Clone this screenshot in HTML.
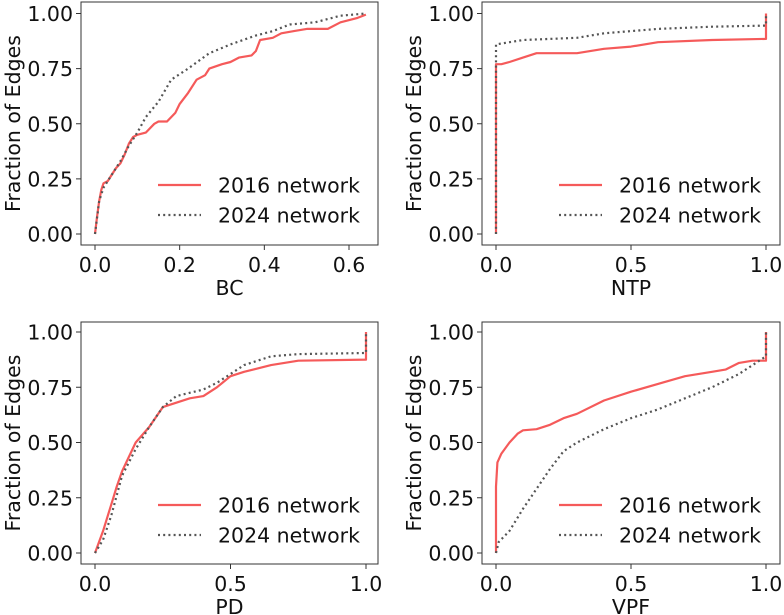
<!DOCTYPE html>
<html><head><meta charset="utf-8"><style>
body{margin:0;background:#fff}
svg{display:block;font-family:"DejaVu Sans","Liberation Sans",sans-serif}
</style></head><body>
<svg id="chart" width="784" height="615" viewBox="0 0 784 615"></svg>
<script>
const panelTitles = ["BC","NTP","PD","VPF"];
const xTicksBC = [0,0.2,0.4,0.6];
const xTicksUnit = [0,0.5,1];
const yTicks = [0,0.25,0.5,0.75,1];
const seriesNames = ["2016 network","2024 network"];
const bc2016 = [[0,0],[0.005,0.08],[0.01,0.15],[0.015,0.2],[0.02,0.23],[0.03,0.24],[0.04,0.27],[0.05,0.3],[0.06,0.32],[0.07,0.36],[0.08,0.41],[0.09,0.44],[0.1,0.45],[0.12,0.46],[0.14,0.5],[0.15,0.51],[0.17,0.51],[0.19,0.55],[0.2,0.59],[0.22,0.64],[0.24,0.7],[0.26,0.72],[0.27,0.75],[0.3,0.77],[0.32,0.78],[0.34,0.8],[0.37,0.81],[0.38,0.83],[0.39,0.88],[0.42,0.89],[0.44,0.91],[0.47,0.92],[0.5,0.93],[0.55,0.93],[0.58,0.96],[0.62,0.98],[0.64,0.995]];
const bc2024 = [[0,0],[0.01,0.15],[0.02,0.21],[0.04,0.27],[0.06,0.33],[0.08,0.40],[0.1,0.46],[0.12,0.53],[0.15,0.6],[0.18,0.7],[0.22,0.75],[0.27,0.82],[0.32,0.86],[0.38,0.9],[0.42,0.92],[0.46,0.95],[0.52,0.96],[0.58,0.99],[0.64,1.0]];
const ntp2016 = [[0,0],[0,0.77],[0.02,0.77],[0.05,0.78],[0.1,0.8],[0.15,0.82],[0.3,0.82],[0.4,0.84],[0.5,0.85],[0.6,0.87],[0.8,0.88],[1,0.885],[1,1]];
const ntp2024 = [[0,0],[0,0.86],[0.05,0.87],[0.1,0.88],[0.3,0.89],[0.4,0.91],[0.6,0.93],[0.8,0.94],[1,0.945],[1,1]];
const pd2016 = [[0,0],[0.03,0.1],[0.06,0.22],[0.08,0.3],[0.1,0.37],[0.15,0.5],[0.2,0.57],[0.25,0.66],[0.3,0.68],[0.35,0.7],[0.4,0.71],[0.45,0.75],[0.5,0.8],[0.55,0.82],[0.65,0.85],[0.75,0.87],[1,0.875],[1,1]];
const pd2024 = [[0,0],[0.03,0.06],[0.06,0.17],[0.1,0.35],[0.15,0.47],[0.2,0.57],[0.25,0.66],[0.3,0.71],[0.4,0.74],[0.45,0.77],[0.5,0.81],[0.55,0.85],[0.65,0.89],[0.75,0.9],[1,0.905],[1,1]];
const vpf2016 = [[0,0],[0,0.3],[0.005,0.41],[0.02,0.45],[0.05,0.5],[0.08,0.54],[0.1,0.555],[0.15,0.56],[0.2,0.58],[0.25,0.61],[0.3,0.63],[0.4,0.69],[0.5,0.73],[0.6,0.765],[0.7,0.8],[0.8,0.82],[0.85,0.83],[0.9,0.86],[0.95,0.87],[1,0.87],[1,1]];
const vpf2024 = [[0,0],[0.01,0.05],[0.05,0.1],[0.1,0.2],[0.15,0.29],[0.2,0.38],[0.25,0.46],[0.3,0.5],[0.4,0.56],[0.5,0.61],[0.6,0.65],[0.7,0.7],[0.8,0.75],[0.9,0.81],[1,0.89],[1,1]];

const NS="http://www.w3.org/2000/svg";
const svg=document.getElementById('chart');
function mk(tag,attrs,parent){const e=document.createElementNS(NS,tag);for(const k in attrs)e.setAttribute(k,attrs[k]);(parent||svg).appendChild(e);return e;}

const panels=[
 {name:"bc",box:[81,2,378,245],xr:[95,349],xd:[0,0.6],yr:[234,13.5],ticks:xTicksBC,s:[bc2016,bc2024],title:panelTitles[0]},
 {name:"ntp",box:[482,2,780,245],xr:[496,766],xd:[0,1],yr:[234,13.5],ticks:xTicksUnit,s:[ntp2016,ntp2024],title:panelTitles[1]},
 {name:"pd",box:[81,322,378,564],xr:[95,366],xd:[0,1],yr:[553,332],ticks:xTicksUnit,s:[pd2016,pd2024],title:panelTitles[2]},
 {name:"vpf",box:[482,322,780,564],xr:[496,766],xd:[0,1],yr:[553,332],ticks:xTicksUnit,s:[vpf2016,vpf2024],title:panelTitles[3]}
];
const styles=[{stroke:"#f55a5a",w:2.2,dash:null},{stroke:"#555",w:2.2,dash:"2,3.2"}];
const FS=20.5;

panels.forEach(p=>{
 const g=mk('g',{});
 
 
 const [x0,y0,x1,y1]=p.box;
 const sx=v=>p.xr[0]+(v-p.xd[0])/(p.xd[1]-p.xd[0])*(p.xr[1]-p.xr[0]);
 const sy=v=>p.yr[0]+v*(p.yr[1]-p.yr[0]);
 p.s.forEach((d,i)=>{
  const pts=d.map(q=>sx(q[0]).toFixed(1)+","+sy(q[1]).toFixed(1)).join(" ");
  const a={points:pts,fill:"none",stroke:styles[i].stroke,"stroke-width":styles[i].w,"stroke-linejoin":"round"};
  if(styles[i].dash)a["stroke-dasharray"]=styles[i].dash;
  const l=mk('polyline',a,g);
  
  
 });
 const fr=mk('rect',{x:x0,y:y0,width:x1-x0,height:y1-y0,fill:"none",stroke:"#333","stroke-width":1},g);
 
 
 p.ticks.forEach(t=>{
  const X=sx(t);
  mk('line',{x1:X,x2:X,y1:y1,y2:y1+5,stroke:"#333"},g);
  const tx=mk('text',{x:X,y:y1+27,"font-size":FS,"text-anchor":"middle",fill:"#111"},g);
  tx.textContent=t.toFixed(1);
  
  
 });
 yTicks.forEach(t=>{
  const Y=sy(t);
  mk('line',{x1:x0-5,x2:x0,y1:Y,y2:Y,stroke:"#333"},g);
  const ty=mk('text',{x:x0-8,y:Y+7.5,"font-size":FS,"text-anchor":"end",fill:"#111"},g);
  ty.textContent=t.toFixed(2);
  
  
 });
 const xl=mk('text',{x:(x0+x1)/2,y:y1+50,"font-size":FS,"text-anchor":"middle",fill:"#111"},g);
 xl.textContent=p.title;
 
 
 const yc=(y0+y1)/2, yx=x0-61;
 const yl=mk('text',{x:yx,y:yc,"font-size":FS,"text-anchor":"middle",fill:"#111",transform:`rotate(-90 ${yx} ${yc})`},g);
 yl.textContent="Fraction of Edges";
 
 
 seriesNames.forEach((n,i)=>{
  const ly=y0+183+i*30;
  const lg=mk('g',{},g);
  
  
  const a={x1:x0+77,x2:x0+120,y1:ly,y2:ly,stroke:styles[i].stroke,"stroke-width":styles[i].w};
  if(styles[i].dash)a["stroke-dasharray"]=styles[i].dash;
  mk('line',a,lg);
  const lt=mk('text',{x:x0+137,y:ly+7.5,"font-size":FS,fill:"#111"},lg);
  lt.textContent=n;
 });
});
</script>
</body></html>
